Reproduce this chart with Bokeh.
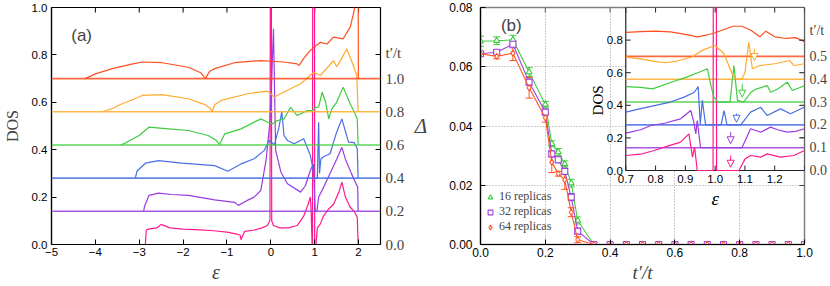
import math
from bokeh.plotting import figure
from bokeh.layouts import row
from bokeh.models import (Range1d, LinearAxis, FixedTicker, NumeralTickFormatter, Span, Label,
                          Whisker, TeeHead, Arrow, NormalHead, ColumnDataSource, Legend, LegendItem)
from bokeh.embed import file_html
from bokeh.resources import INLINE
from bokeh.core.properties import value

SANS = "Liberation Sans"
SERIF = "Liberation Serif"

# ---------------- panel (a): DOS curves, offset by 0.14 per t'/t step ----------------
a_ratio = [0.0, 0.2, 0.4, 0.6, 0.8, 1.0]
a_offset = [0.0, 0.14, 0.28, 0.42, 0.56, 0.70]
a_colors = ["#ff1a8c", "#9a3be0", "#4a6fe3", "#3fcc3f", "#ffaa2a", "#ff4e1f"]
a_xticks = [-5, -4, -3, -2, -1, 0, 1, 2]
a_yticks = [0.0, 0.2, 0.4, 0.6, 0.8, 1.0]
a_title_pos = 0.81   # DOS height of the "t'/t" heading on the right

a_eps_t00 = [-2.86, -2.84, -2.8, -2.6, -2.5, -2.3, -2.0, -1.6, -1.3, -1.0, -0.8, -0.7, -0.68, -0.6,
             -0.4, -0.2, -0.08, -0.02, -0.01, 0.01, 0.02, 0.06, 0.2, 0.4, 0.6, 0.75, 0.85, 0.9,
             0.92, 0.94, 0.95, 0.955, 0.995, 1.0, 1.03, 1.06, 1.13, 1.2, 1.32, 1.43, 1.55, 1.62,
             1.7, 1.81, 1.9, 1.97, 1.99]
a_dos_t00 = [0.0, 0.06, 0.065, 0.07, 0.085, 0.07, 0.065, 0.062, 0.058, 0.052, 0.045, 0.04, 0.02, 0.055,
             0.06, 0.07, 0.08, 0.1, 1.3, 1.3, 0.1, 0.08, 0.07, 0.07, 0.08, 0.12, 0.17, 0.2,
             0.14, 0.0, 0.0, 1.3, 1.3, 0.0, 0.0, 0.07, 0.087, 0.12, 0.15, 0.17, 0.22, 0.263,
             0.2, 0.157, 0.14, 0.115, 0.0]

a_eps_t02 = [-2.9, -2.88, -2.78, -2.56, -2.26, -1.88, -1.28, -0.83, -0.74, -0.55, -0.38, -0.23, -0.11,
             -0.03, 0.02, 0.06, 0.09, 0.11, 0.23, 0.38, 0.68, 0.79, 0.9, 0.97, 0.99, 1.01, 1.05, 1.09,
             1.2, 1.35, 1.5, 1.62, 1.7, 1.84, 1.98, 1.99]
a_dos_t02 = [0.14, 0.16, 0.207, 0.217, 0.211, 0.207, 0.188, 0.178, 0.165, 0.185, 0.2, 0.228, 0.354,
             0.5, 0.7, 0.91, 0.6, 0.397, 0.305, 0.256, 0.221, 0.249, 0.312, 0.34, 0.25, 0.14, 0.14, 0.2,
             0.24, 0.3, 0.36, 0.41, 0.36, 0.298, 0.242, 0.14]

a_eps_t04 = [-3.09, -3.05, -2.86, -2.56, -2.03, -1.28, -0.98, -0.68, -0.38, -0.15, -0.04, 0.08, 0.18,
             0.25, 0.3, 0.38, 0.53, 0.75, 0.9, 0.95, 0.98, 1.06, 1.09, 1.11, 1.14, 1.2, 1.35, 1.5,
             1.62, 1.77, 1.9, 1.97, 1.99]
a_dos_t04 = [0.28, 0.31, 0.343, 0.354, 0.343, 0.333, 0.309, 0.34, 0.362, 0.397, 0.44, 0.42, 0.49,
             0.56, 0.46, 0.439, 0.425, 0.446, 0.376, 0.33, 0.28, 0.28, 0.516, 0.3, 0.36, 0.37, 0.383,
             0.474, 0.53, 0.432, 0.43, 0.404, 0.28]

a_eps_t06 = [-3.42, -3.3, -3.0, -2.78, -2.33, -1.88, -1.43, -1.25, -1.17, -1.05, -0.68, -0.23, -0.07,
             0.04, 0.15, 0.3, 0.45, 0.6, 0.83, 0.94, 1.02, 1.09, 1.17, 1.25, 1.32, 1.39, 1.5, 1.65,
             1.81, 1.9, 1.97, 1.99]
a_dos_t06 = [0.42, 0.43, 0.46, 0.495, 0.488, 0.481, 0.46, 0.44, 0.422, 0.467, 0.488, 0.53, 0.516,
             0.509, 0.523, 0.53, 0.579, 0.544, 0.565, 0.565, 0.579, 0.58, 0.643, 0.6, 0.53, 0.572,
             0.6, 0.664, 0.593, 0.56, 0.53, 0.42]

a_eps_t08 = [-3.84, -3.6, -3.39, -3.1, -2.93, -2.48, -1.88, -1.5, -1.38, -1.34, -1.28, -1.13, -0.53,
             -0.07, 0.08, 0.45, 0.68, 0.98, 1.13, 1.43, 1.5, 1.6, 1.73, 1.88, 1.96, 1.99]
a_dos_t08 = [0.56, 0.575, 0.594, 0.615, 0.629, 0.632, 0.615, 0.59, 0.575, 0.56, 0.59, 0.608, 0.636,
             0.647, 0.622, 0.657, 0.678, 0.727, 0.713, 0.776, 0.75, 0.78, 0.826, 0.755, 0.713, 0.56]

a_eps_t10 = [-4.23, -4.0, -3.61, -3.2, -2.93, -2.48, -1.88, -1.6, -1.49, -1.4, -1.28, -0.83, -0.23,
             0.3, 0.6, 0.64, 0.75, 0.9, 1.13, 1.28, 1.43, 1.65, 1.81, 1.9, 1.95, 1.99, 1.995]
a_dos_t10 = [0.7, 0.72, 0.742, 0.76, 0.77, 0.767, 0.748, 0.725, 0.7, 0.73, 0.742, 0.767, 0.776,
             0.77, 0.762, 0.755, 0.785, 0.819, 0.853, 0.846, 0.875, 0.868, 0.917, 0.987, 1.1, 1.3, 0.7]

a_eps = [a_eps_t00, a_eps_t02, a_eps_t04, a_eps_t06, a_eps_t08, a_eps_t10]
a_dos = [a_dos_t00, a_dos_t02, a_dos_t04, a_dos_t06, a_dos_t08, a_dos_t10]

# ---------------- panel (b): gap vs t'/t ----------------
b_tp = [0.00, 0.05, 0.10, 0.15, 0.20, 0.22, 0.24, 0.26, 0.28, 0.30, 0.35, 0.40, 0.45, 0.50,
        0.55, 0.60, 0.65, 0.70, 0.75, 0.80, 0.85, 0.90, 0.95, 1.00]
b_gap_16 = [0.0686, 0.0688, 0.0691, 0.0582, 0.0473, 0.0340, 0.0312, 0.0272, 0.0207, 0.0081,
            0.0, 0.0, 0.0, 0.0, 0.0, 0.0, 0.0, 0.0, 0.0, 0.0, 0.0, 0.0, 0.0, 0.0]
b_err_16 = [0.0017, 0.0013, 0.0015, 0.0015, 0.0010, 0.0010, 0.0012, 0.0010, 0.0013, 0.0012,
            0.0, 0.0, 0.0, 0.0, 0.0, 0.0, 0.0, 0.0, 0.0, 0.0, 0.0, 0.0, 0.0, 0.0]
b_gap_32 = [0.0644, 0.0649, 0.0676, 0.0548, 0.0447, 0.0306, 0.0286, 0.0247, 0.0160, 0.0045,
            0.0, 0.0, 0.0, 0.0, 0.0, 0.0, 0.0, 0.0, 0.0, 0.0, 0.0, 0.0, 0.0, 0.0]
b_err_32 = [0.0005, 0.0008, 0.0012, 0.0010, 0.0010, 0.0010, 0.0010, 0.0010, 0.0012, 0.0010,
            0.0, 0.0, 0.0, 0.0, 0.0, 0.0, 0.0, 0.0, 0.0, 0.0, 0.0, 0.0, 0.0, 0.0]
b_gap_64 = [0.0644, 0.0635, 0.0646, 0.0529, 0.0428, 0.0278, 0.0239, 0.0218, 0.0109, 0.0016,
            0.0, 0.0, 0.0, 0.0, 0.0, 0.0, 0.0, 0.0, 0.0, 0.0, 0.0, 0.0, 0.0, 0.0]
b_err_64 = [0.0005, 0.0008, 0.0025, 0.0035, 0.0015, 0.0035, 0.0008, 0.0032, 0.0015, 0.0010,
            0.0, 0.0, 0.0, 0.0, 0.0, 0.0, 0.0, 0.0, 0.0, 0.0, 0.0, 0.0, 0.0, 0.0]
b_labels = ["16 replicas", "32 replicas", "64 replicas"]
b_colors = ["#3fcc3f", "#a040e0", "#ff5522"]
b_markers = ["triangle", "square", "diamond"]
b_xticks = [0.0, 0.2, 0.4, 0.6, 0.8, 1.0]
b_yticks = [0.0, 0.02, 0.04, 0.06, 0.08]

# ---------------- inset of (b) ----------------
i_ratio = [0.0, 0.1, 0.2, 0.3, 0.4, 0.5]
i_offset = [0.0, 0.14, 0.28, 0.42, 0.56, 0.70]
i_colors = ["#ff1a8c", "#9a3be0", "#4a6fe3", "#3fcc3f", "#ffaa2a", "#ff4e1f"]
i_xrange = [0.7, 1.3]
i_yrange = [0.0, 1.0]
i_xticks = [0.7, 0.8, 0.9, 1.0, 1.1, 1.2, 1.3]
i_xlabels = [0.7, 0.8, 0.9, 1.0, 1.1, 1.2]
i_yticks = [0.2, 0.4, 0.6, 0.8]
i_ylabels = [0.0, 0.2, 0.4, 0.6, 0.8]
i_title_pos = 0.86   # DOS height of the inset "t'/t" heading

i_eps_t00 = [0.70, 0.75, 0.795, 0.84, 0.884, 0.912, 0.924, 0.931, 0.94, 0.993, 0.994, 1.004, 1.005,
             1.08, 1.1, 1.119, 1.153, 1.175, 1.219, 1.264, 1.30]
i_dos_t00 = [0.092, 0.1, 0.123, 0.15, 0.174, 0.225, 0.082, 0.143, 0.0, 0.0, 1.3, 1.3, 0.0,
             0.0, 0.07, 0.092, 0.082, 0.102, 0.082, 0.092, 0.123]
i_eps_t01 = [0.70, 0.75, 0.784, 0.83, 0.884, 0.918, 0.928, 0.935, 0.94, 0.951, 1.09, 1.119, 1.153,
             1.186, 1.21, 1.242, 1.27, 1.30]
i_dos_t01 = [0.229, 0.25, 0.276, 0.29, 0.317, 0.368, 0.3, 0.225, 0.307, 0.14, 0.14, 0.256, 0.235,
             0.266, 0.25, 0.235, 0.24, 0.256]
i_eps_t02 = [0.70, 0.75, 0.80, 0.85, 0.896, 0.93, 0.943, 0.95, 0.957, 0.968, 1.02, 1.03, 1.04,
             1.086, 1.119, 1.153, 1.175, 1.219, 1.253, 1.30]
i_dos_t02 = [0.358, 0.38, 0.4, 0.42, 0.45, 0.48, 0.515, 0.286, 0.43, 0.28, 0.28, 0.368, 0.28,
             0.28, 0.358, 0.388, 0.337, 0.378, 0.348, 0.39]
i_eps_t03 = [0.70, 0.75, 0.79, 0.85, 0.90, 0.946, 0.974, 0.987, 0.996, 1.01, 1.05, 1.063, 1.075,
             1.096, 1.12, 1.14, 1.175, 1.186, 1.21, 1.242, 1.259, 1.30]
i_dos_t03 = [0.515, 0.51, 0.501, 0.54, 0.57, 0.603, 0.624, 0.511, 0.45, 0.42, 0.42, 0.644, 0.43,
             0.42, 0.48, 0.501, 0.521, 0.48, 0.5, 0.542, 0.491, 0.52]
i_eps_t04 = [0.70, 0.75, 0.80, 0.83, 0.87, 0.92, 0.96, 1.00, 1.03, 1.06, 1.07, 1.09, 1.10, 1.113,
             1.125, 1.15, 1.20, 1.25, 1.265, 1.30]
i_dos_t04 = [0.695, 0.685, 0.668, 0.661, 0.67, 0.695, 0.74, 0.767, 0.716, 0.58, 0.562, 0.562, 0.6,
             0.787, 0.624, 0.644, 0.655, 0.675, 0.644, 0.655]
i_eps_t05 = [0.70, 0.75, 0.80, 0.85, 0.90, 0.94, 0.97, 1.00, 1.03, 1.06, 1.09, 1.12, 1.15, 1.17,
             1.20, 1.24, 1.27, 1.30]
i_dos_t05 = [0.848, 0.852, 0.855, 0.85, 0.835, 0.82, 0.83, 0.845, 0.865, 0.885, 0.885, 0.86, 0.82,
             0.855, 0.82, 0.81, 0.815, 0.79]
i_eps = [i_eps_t00, i_eps_t01, i_eps_t02, i_eps_t03, i_eps_t04, i_eps_t05]
i_dos = [i_dos_t00, i_dos_t01, i_dos_t02, i_dos_t03, i_dos_t04, i_dos_t05]

i_arrow_x = [1.052, 1.052, 1.072, 1.091, 1.132]
i_arrow_top = [0.092, 0.235, 0.35, 0.532, 0.746]
i_arrow_bot = [0.02, 0.164, 0.296, 0.45, 0.675]
i_arrow_colors = ["#ff1a8c", "#9a3be0", "#4a6fe3", "#3fcc3f", "#ffaa2a"]

# inset placement inside the (b) frame (fractions of the frame)
INSET_LEFT_FRAC = 0.4484
INSET_BOTTOM_FRAC = 0.3122

H = 286
W1, W2 = 410, 420
TICK_PX = 5


def style_axis(ax, fs="12px"):
    ax.major_tick_in = TICK_PX
    ax.major_tick_out = 0
    ax.minor_tick_in = 0
    ax.minor_tick_out = 0
    ax.major_label_text_font = SANS
    ax.major_label_text_font_size = fs
    ax.major_label_text_color = "black"
    ax.axis_line_color = "black"
    ax.axis_line_width = 1.2
    ax.major_tick_line_color = "black"


# ======================= figure (a) =======================
p1 = figure(width=W1, height=H, x_range=Range1d(-5, 2.5), y_range=Range1d(0, 1.0),
            output_backend="svg", toolbar_location=None,
            min_border_left=48, min_border_right=30, min_border_top=7, min_border_bottom=42)
p1.grid.visible = False
p1.outline_line_color = "black"
p1.outline_line_width = 1.2
p1.xaxis.ticker = FixedTicker(ticks=a_xticks)
p1.yaxis.ticker = FixedTicker(ticks=a_yticks)
p1.yaxis.formatter = NumeralTickFormatter(format="0.0")
for ax in list(p1.xaxis) + list(p1.yaxis):
    style_axis(ax, "11.5px")
p1.xaxis.major_label_standoff = 3
p1.yaxis.major_label_standoff = 4
p1.yaxis.axis_label = "DOS"
p1.yaxis.axis_label_text_font = SERIF
p1.yaxis.axis_label_text_font_style = "normal"
p1.yaxis.axis_label_text_font_size = "16px"
p1.yaxis.axis_label_standoff = 8
p1.xaxis.axis_label = "ε"
p1.xaxis.axis_label_text_font = SERIF
p1.xaxis.axis_label_text_font_style = "italic"
p1.xaxis.axis_label_text_font_size = "20px"
p1.xaxis.axis_label_standoff = 2

# top ticks (mirrored)
n_a = len(a_xticks) - 1
p1.segment(x0=a_xticks[1:], x1=a_xticks[1:], y0=[a_yticks[-1]] * n_a,
           y1=[a_yticks[-1] - TICK_PX / 237.0] * n_a, line_color="black", line_width=1)

scale_a = a_offset[-1] / a_ratio[-1]
p1.extra_y_ranges = {"tp": Range1d(0, 1.0 / scale_a)}
a_title_tick = a_title_pos / scale_a
right1 = LinearAxis(y_range_name="tp",
                    ticker=FixedTicker(ticks=a_ratio + [a_title_tick],
                                       minor_ticks=[v / scale_a for v in a_yticks[1:-1]]),
                    formatter=NumeralTickFormatter(format="0.0"),
                    major_label_overrides={a_title_tick: "t′/t"},
                    major_tick_in=0, major_tick_out=0, minor_tick_in=TICK_PX, minor_tick_out=0,
                    major_label_text_font=SERIF, major_label_text_font_size="15px",
                    major_label_standoff=5, axis_line_color=None)
p1.add_layout(right1, "right")

for off, col in zip(a_offset[1:], a_colors[1:]):
    p1.add_layout(Span(location=off, dimension="width", line_color=col, line_width=1.6, line_alpha=0.85))
for eps, dos, col in zip(a_eps, a_dos, a_colors):
    p1.line(eps, dos, line_color=col, line_width=1.2)

p1.add_layout(Label(x=-4.55, y=0.88, text="(a)", text_font=SANS, text_font_size="17px",
                    text_baseline="middle"))

# ======================= figure (b) =======================
p2 = figure(width=W2, height=H, x_range=Range1d(0, 1.0), y_range=Range1d(0, 0.08),
            output_backend="svg", toolbar_location=None,
            min_border_left=70, min_border_right=26, min_border_top=7, min_border_bottom=42)
p2.outline_line_color = "#808080"
p2.outline_line_width = 1.5
p2.xaxis.ticker = FixedTicker(ticks=b_xticks)
p2.yaxis.ticker = FixedTicker(ticks=b_yticks)
p2.xaxis.formatter = NumeralTickFormatter(format="0.0")
p2.yaxis.formatter = NumeralTickFormatter(format="0.00")
for ax in list(p2.xaxis) + list(p2.yaxis):
    style_axis(ax, "12px")
p2.xaxis.major_label_standoff = 3
p2.yaxis.major_label_standoff = 8
p2.xaxis.axis_label = "t′/t"
p2.xaxis.axis_label_text_font = SERIF
p2.xaxis.axis_label_text_font_style = "italic"
p2.xaxis.axis_label_text_font_size = "19px"
p2.xaxis.axis_label_standoff = 2
p2.yaxis.axis_label = "Δ"
p2.yaxis.axis_label_text_font = SERIF
p2.yaxis.axis_label_text_font_style = "italic"
p2.yaxis.axis_label_text_font_size = "21px"
p2.yaxis.axis_label_standoff = 19
p2.yaxis.axis_label_orientation = "horizontal"
p2.xgrid.ticker = FixedTicker(ticks=b_xticks[1:-1])
p2.ygrid.ticker = FixedTicker(ticks=b_yticks[1:-1])
p2.grid.grid_line_color = "#999999"
p2.grid.grid_line_dash = "1 2"
p2.grid.grid_line_width = 1

# inset ranges mapped onto the whole frame
ix0 = i_xrange[0] - INSET_LEFT_FRAC / (1 - INSET_LEFT_FRAC) * (i_xrange[1] - i_xrange[0])
iy0 = i_yrange[0] - INSET_BOTTOM_FRAC / (1 - INSET_BOTTOM_FRAC) * (i_yrange[1] - i_yrange[0])
scale_i = i_offset[-1] / i_ratio[-1]
p2.extra_x_ranges = {"ix": Range1d(ix0, i_xrange[1])}
p2.extra_y_ranges = {"iy": Range1d(iy0, i_yrange[1]),
                     "tp2": Range1d(iy0 / scale_i, i_yrange[1] / scale_i)}

# top ticks left of the inset
b_top = [t for t in b_xticks[1:-1] if t < INSET_LEFT_FRAC]
p2.segment(x0=b_top, x1=b_top, y0=[b_yticks[-1]] * len(b_top),
           y1=[b_yticks[-1] - TICK_PX * 0.08 / 237.0] * len(b_top), line_color="#555555", line_width=1)


def main_to_tp2(y):
    g = y / b_yticks[-1]
    return (g - INSET_BOTTOM_FRAC) / (1 - INSET_BOTTOM_FRAC) / scale_i


i_title_tick = i_title_pos / scale_i
right_minor = [main_to_tp2(y) for y in b_yticks[1:-1] if y / b_yticks[-1] < INSET_BOTTOM_FRAC]
right_minor += [v / scale_i for v in i_yticks]
right2 = LinearAxis(y_range_name="tp2",
                    ticker=FixedTicker(ticks=i_ratio + [i_title_tick], minor_ticks=right_minor),
                    formatter=NumeralTickFormatter(format="0.0"),
                    major_label_overrides={i_title_tick: "t′/t"},
                    major_tick_in=0, major_tick_out=0, minor_tick_in=TICK_PX, minor_tick_out=0,
                    minor_tick_line_color="#444444",
                    major_label_text_font=SERIF, major_label_text_font_size="14px",
                    major_label_standoff=5, axis_line_color=None)
p2.add_layout(right2, "right")

# main data
items = []
for gap, err, col, mk, lab in zip([b_gap_16, b_gap_32, b_gap_64], [b_err_16, b_err_32, b_err_64],
                                  b_colors, b_markers, b_labels):
    p2.line(b_tp, gap, line_color=col, line_width=1.1)
    wx = [x for x, e in zip(b_tp, err) if e > 0]
    wu = [g + e for g, e in zip(gap, err) if e > 0]
    wl = [g - e for g, e in zip(gap, err) if e > 0]
    src = ColumnDataSource(dict(x=wx, upper=wu, lower=wl))
    p2.add_layout(Whisker(source=src, base="x", upper="upper", lower="lower", line_color=col,
                          line_width=1,
                          upper_head=TeeHead(size=7, line_color=col, line_width=1),
                          lower_head=TeeHead(size=7, line_color=col, line_width=1)))
    r = p2.scatter(b_tp, gap, marker=mk, size=6, line_color=col, fill_color="white", line_width=1.1)
    items.append(LegendItem(label=lab, renderers=[r]))

legend = Legend(items=items, location=(2, 8), glyph_width=12, glyph_height=12, label_standoff=3,
                spacing=0, padding=2, margin=0, label_height=12,
                label_text_font=SERIF, label_text_font_size="12px",
                background_fill_alpha=0, border_line_alpha=0)
p2.add_layout(legend)

p2.add_layout(Label(x=0.063, y=0.0739, text="(b)", text_font=SANS, text_font_size="17px",
                    text_baseline="middle"))

# ---- inset ----
IX = dict(x_range_name="ix", y_range_name="iy")
p2.quad(left=[i_xrange[0]], right=[i_xrange[1]], bottom=[i_yrange[0]], top=[i_yrange[1]],
        fill_color="white", line_color="#222222", line_width=1.2, **IX)
p2.segment(x0=[i_xrange[0]] * 5, x1=[i_xrange[1]] * 5, y0=i_offset[1:], y1=i_offset[1:],
           line_color=i_colors[1:], line_width=1.6, line_alpha=0.85, **IX)
for eps, dos, col in zip(i_eps, i_dos, i_colors):
    p2.line(eps, dos, line_color=col, line_width=1.2, **IX)
for ax_, at, ab, col in zip(i_arrow_x, i_arrow_top, i_arrow_bot, i_arrow_colors):
    p2.add_layout(Arrow(end=NormalHead(size=7, fill_color="white", line_color=col, line_width=1),
                        x_start=ax_, y_start=at, x_end=ax_, y_end=ab, line_color=col, line_width=1,
                        **IX))

tlx = TICK_PX * (i_xrange[1] - i_xrange[0]) / 179.0
tly = TICK_PX * (i_yrange[1] - i_yrange[0]) / 163.0
n = len(i_xticks)
p2.segment(x0=i_xticks, x1=i_xticks, y0=[i_yrange[0]] * n, y1=[i_yrange[0] + tly] * n,
           line_color="#222222", line_width=1, **IX)
p2.segment(x0=i_xticks, x1=i_xticks, y0=[i_yrange[1]] * n, y1=[i_yrange[1] - tly] * n,
           line_color="#222222", line_width=1, **IX)
m = len(i_yticks)
p2.segment(x0=[i_xrange[0]] * m, x1=[i_xrange[0] + tlx] * m, y0=i_yticks, y1=i_yticks,
           line_color="#222222", line_width=1, **IX)
p2.segment(x0=[i_xrange[1]] * m, x1=[i_xrange[1] - tlx] * m, y0=i_yticks, y1=i_yticks,
           line_color="#222222", line_width=1, **IX)

p2.text(x=i_xlabels, y=[i_yrange[0]] * len(i_xlabels), text=["%.1f" % v for v in i_xlabels],
        y_offset=4, text_align="center", text_baseline="top", text_font=value(SANS),
        text_font_size="11.5px", text_color="black", **IX)
p2.text(x=[i_xrange[0]] * len(i_ylabels), y=i_ylabels, text=["%.1f" % v for v in i_ylabels],
        x_offset=-3, text_align="right", text_baseline="middle", text_font=value(SANS),
        text_font_size="11.5px", text_color="black", **IX)
p2.text(x=[i_xrange[0]], y=[0.43], text=["DOS"], x_offset=-28, angle=math.pi / 2,
        text_align="center", text_baseline="middle", text_font=value(SERIF),
        text_font_size="15px", text_color="black", **IX)
p2.text(x=[1.0], y=[i_yrange[0]], text=["ε"], y_offset=28, text_align="center",
        text_baseline="middle", text_font=value(SERIF), text_font_style="italic",
        text_font_size="19px", text_color="black", **IX)

layout = row(p1, p2)
open("out.html", "w").write(file_html(layout, INLINE))
